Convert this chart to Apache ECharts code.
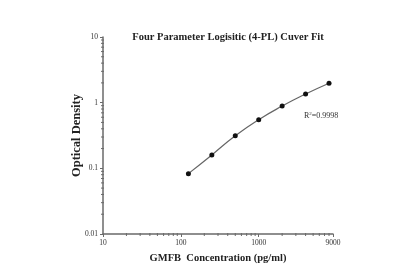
<!DOCTYPE html>
<html>
<head>
<meta charset="utf-8">
<script src="https://cdn.jsdelivr.net/npm/echarts@6/dist/echarts.min.js"></script>
<style>
  html, body { margin: 0; padding: 0; background: #fff; }
  #chart { width: 394px; height: 271px; }
</style>
</head>
<body>
<div id="chart"></div>
<script>
// standard concentrations (pg/ml) and measured OD
const concentrations = [125, 250, 500, 1000, 2000, 4000, 8000]
const odValues = [0.083, 0.160, 0.313, 0.551, 0.887, 1.355, 1.98]
const rSquared = '0.9998'

// minor tick values (log axes in echarts have no 2..9 minor ticks)
const xMinorTicks = [20, 30, 40, 50, 60, 70, 80, 90, 200, 300, 400, 500, 600, 700, 800, 900,
  2000, 3000, 4000, 5000, 6000, 7000, 8000]
const yMinorTicks = [0.02, 0.03, 0.04, 0.05, 0.06, 0.07, 0.08, 0.09, 0.2, 0.3, 0.4, 0.5, 0.6, 0.7, 0.8, 0.9,
  2, 3, 4, 5, 6, 7, 8, 9]

const X_MIN = 10, X_MAX = 9000, Y_MIN = 0.01, Y_MAX = 10

const serif = '"Liberation Serif", "DejaVu Serif", serif'
const axisColor = '#6a6a6a'

const chart = echarts.init(document.getElementById('chart'))

const tickSeries = (data, horizontal) => ({
  type: 'custom',
  silent: true,
  clip: false,
  z: 1,
  data,
  renderItem: (params, api) => {
    const p = api.coord([api.value(0), api.value(1)])
    return {
      type: 'line',
      shape: horizontal
        ? { x1: p[0], y1: p[1] - 1, x2: p[0], y2: p[1] + 2 }
        : { x1: p[0] - 2, y1: p[1], x2: p[0] + 1, y2: p[1] },
      style: { stroke: axisColor, lineWidth: 1 }
    }
  }
})

const option = {
  backgroundColor: '#fff',
  animation: false,
  title: {
    text: 'Four Parameter Logisitic (4-PL) Cuver Fit',
    left: 223,
    top: 27,
    textAlign: 'center',
    textStyle: { fontFamily: serif, fontSize: 10.5, fontWeight: 'bold', color: '#222' }
  },
  grid: { left: 103, right: 61, top: 37, bottom: 37 },
  xAxis: {
    type: 'log',
    logBase: 10,
    min: X_MIN,
    max: X_MAX,
    name: 'GMFB  Concentration (pg/ml)',
    nameLocation: 'middle',
    nameGap: 19,
    nameMoveOverlap: false,
    nameTextStyle: { fontFamily: serif, fontSize: 10.5, fontWeight: 'bold', color: '#222' },
    axisLine: { lineStyle: { color: axisColor, width: 1.5 } },
    axisTick: { length: 3, lineStyle: { color: axisColor } },
    axisLabel: { fontFamily: serif, fontSize: 7.5, color: '#333', margin: 5, formatter: v => String(v) },
    splitLine: { show: false }
  },
  yAxis: {
    type: 'log',
    logBase: 10,
    min: Y_MIN,
    max: Y_MAX,
    name: 'Optical Density',
    nameLocation: 'middle',
    nameGap: 20,
    nameMoveOverlap: false,
    nameTextStyle: { fontFamily: serif, fontSize: 12.5, fontWeight: 'bold', color: '#222' },
    axisLine: { show: true, lineStyle: { color: axisColor, width: 1.5 } },
    axisTick: { show: true, length: 3, lineStyle: { color: axisColor } },
    axisLabel: { fontFamily: serif, fontSize: 7.5, color: '#333', margin: 5, formatter: v => String(v) },
    splitLine: { show: false }
  },
  graphic: [{
    type: 'text',
    left: 304,
    top: 111,
    style: {
      text: '{b|R}{s|2}{b|=' + rSquared + '}',
      rich: {
        b: { fontFamily: serif, fontSize: 8, fill: '#333' },
        s: { fontFamily: serif, fontSize: 5, fill: '#333', verticalAlign: 'top', padding: [0, 0, 5, 0] }
      }
    }
  }],
  series: [
    tickSeries(xMinorTicks.map(v => [v, Y_MIN]), true),
    tickSeries(yMinorTicks.map(v => [X_MIN, v]), false),
    {
      type: 'line',
      data: concentrations.map((c, i) => [c, odValues[i]]),
      smooth: true,
      symbol: 'circle',
      symbolSize: 5,
      z: 3,
      itemStyle: { color: '#111' },
      lineStyle: { color: '#666', width: 1.2 }
    }
  ]
}

chart.setOption(option)
</script>
</body>
</html>
